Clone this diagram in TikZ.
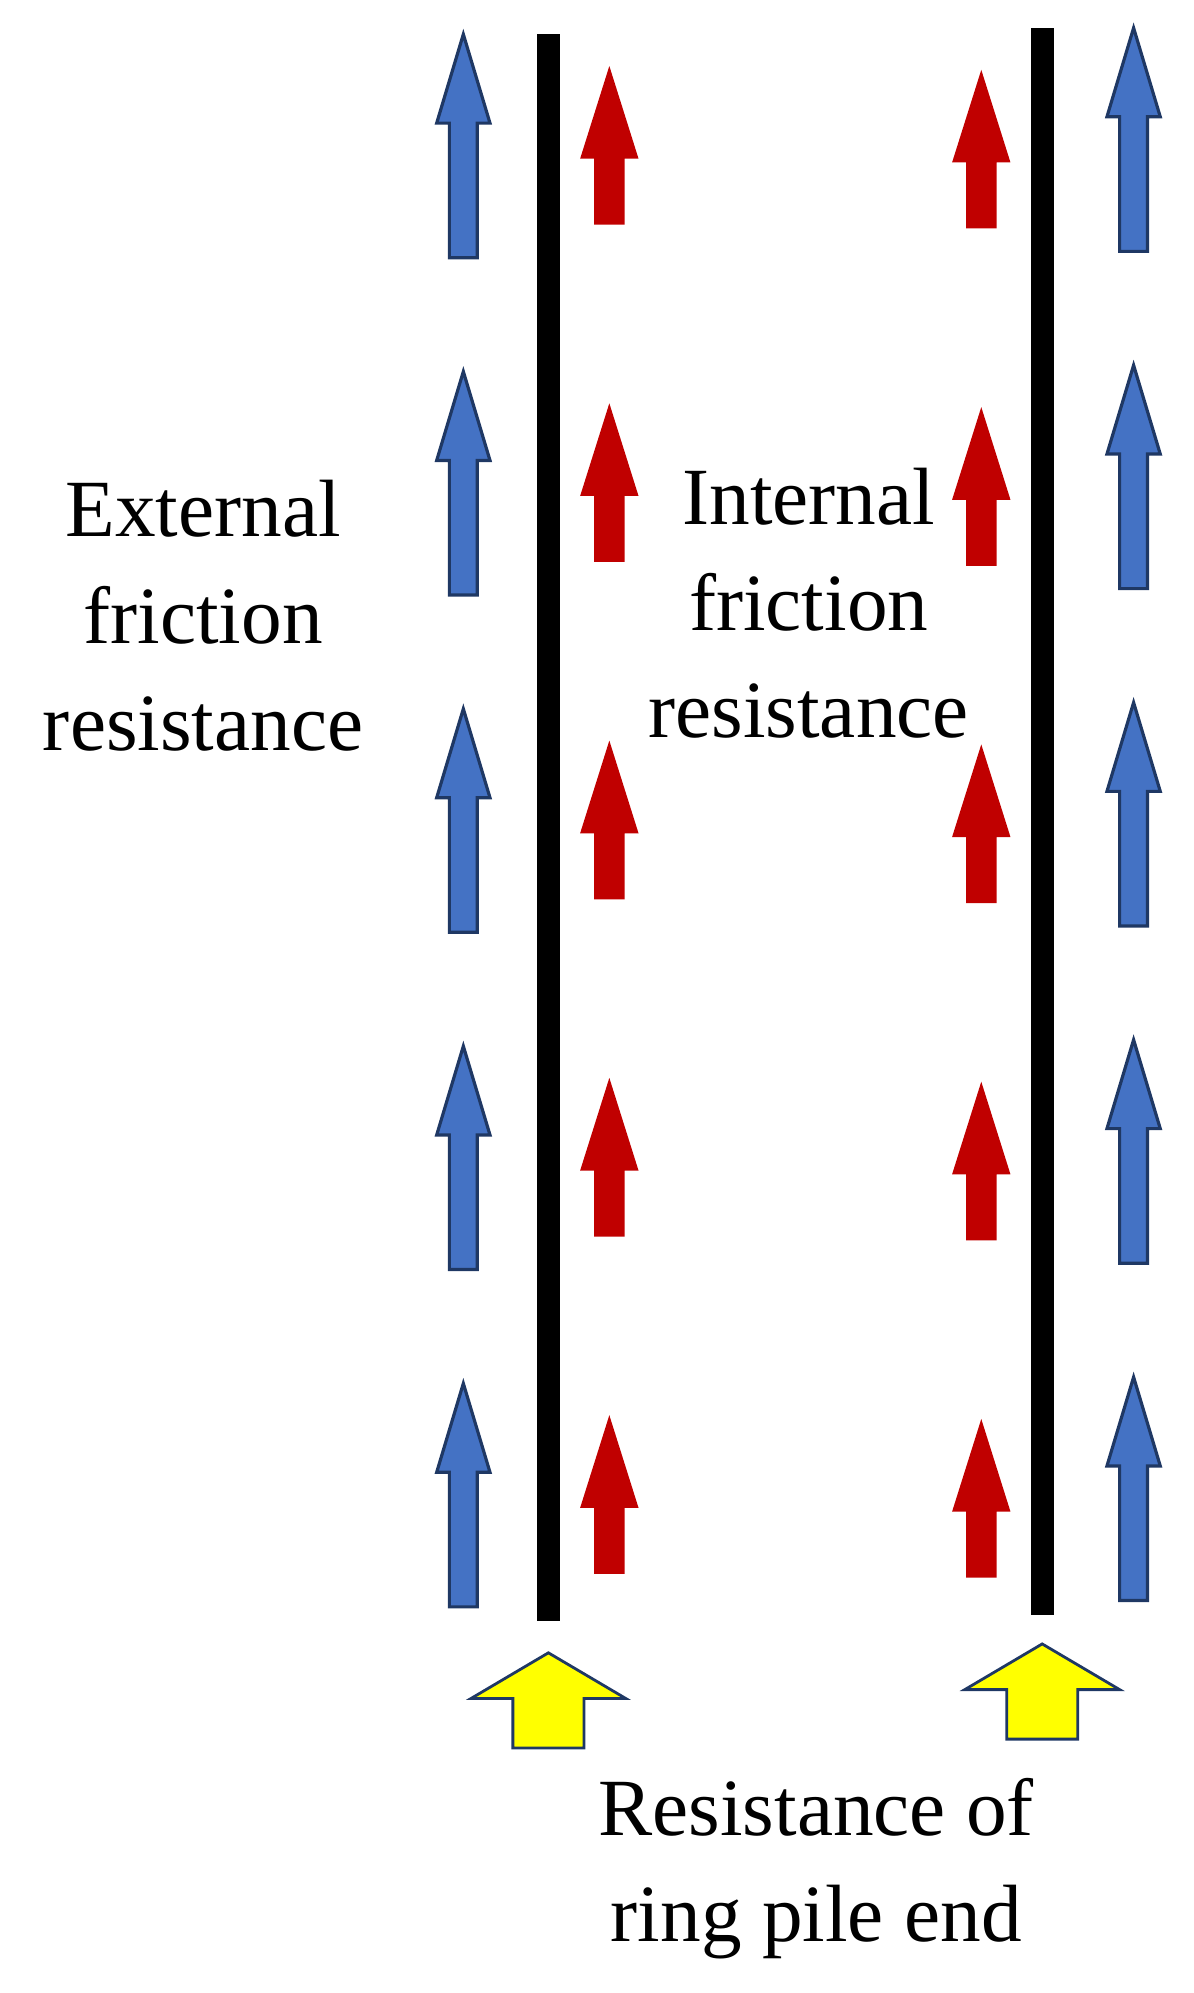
\documentclass[tikz,border=0pt]{standalone}
\usepackage{fontspec}
\setmainfont{Liberation Serif}
\definecolor{bl}{HTML}{4472C4}\definecolor{bld}{HTML}{1F3864}
\definecolor{rd}{HTML}{C00000}\definecolor{yl}{HTML}{FFFF00}
\begin{document}
\begin{tikzpicture}[x=1pt,y=-1pt,
  lbl/.style={font=\fontsize{64}{84}\selectfont,align=center,inner sep=0}]
\useasboundingbox (0,0) rectangle (940,1570);
% piles
\fill[black] (423,27) rectangle (441,1277);
\fill[black] (812,22) rectangle (830,1272);
% blue arrows: center x, top y
\foreach \x/\t in {365/27,893/22}{
 \foreach \k in {0,...,4}{
  \pgfmathsetmacro\T{\t+265.7*\k}
  \draw[bld,line width=2.5pt,fill=bl,line join=miter] (\x,\T) -- (\x+21,\T+70) -- (\x+11,\T+70) -- (\x+11,\T+176) -- (\x-11,\T+176) -- (\x-11,\T+70) -- (\x-21,\T+70) -- cycle;
 }}
% red arrows
\foreach \x/\t in {480/52,773/55}{
 \foreach \k in {0,...,4}{
  \pgfmathsetmacro\T{\t+265.7*\k}
  \fill[rd] (\x,\T) -- (\x+23,\T+73) -- (\x+12,\T+73) -- (\x+12,\T+125) -- (\x-12,\T+125) -- (\x-12,\T+73) -- (\x-23,\T+73) -- cycle;
 }}
% yellow arrows
\foreach \x/\t in {432/1302,821/1295}{
  \draw[bld,line width=2.2pt,fill=yl,line join=miter] (\x,\t) -- (\x+61,\t+36) -- (\x+28,\t+36) -- (\x+28,\t+75) -- (\x-28,\t+75) -- (\x-28,\t+36) -- (\x-61,\t+36) -- cycle;
}
\node[lbl] (ext) at (160,485) {External\\friction\\resistance};
\node[lbl] (int) at (637,475) {Internal\\friction\\resistance};
\node[lbl] (end) at (643,1472) {Resistance of\\ring pile end};
\end{tikzpicture}
\end{document}
